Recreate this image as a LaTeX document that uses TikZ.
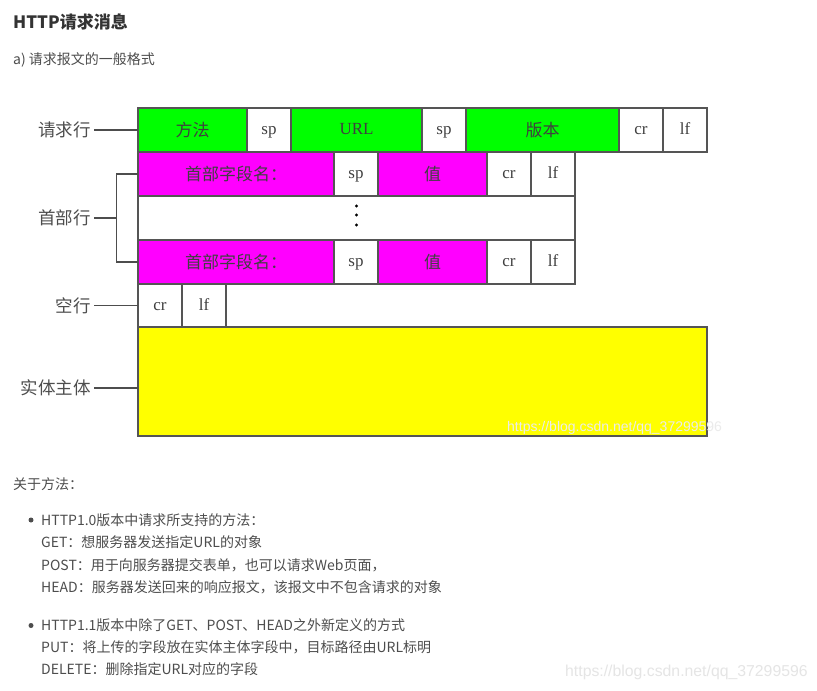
\documentclass[tikz,border=0pt]{standalone}
\usepackage{fontspec}
\setmainfont{Liberation Serif}
\newfontfamily\cjk{Noto Sans CJK SC}
\newfontfamily\websans{Liberation Sans}
\usepackage{tikz}
\usetikzlibrary{positioning}
\definecolor{reqgreen}{HTML}{00FF00}
\definecolor{hdrpink}{HTML}{FF00FF}
\definecolor{bodyyellow}{HTML}{FFFF00}
\definecolor{inkgray}{HTML}{4D4D4D}
\definecolor{titlegray}{HTML}{333333}
\definecolor{framegray}{HTML}{555555}
\tikzset{
    cell/.style={rectangle, draw=framegray, line width=1.2pt, minimum height=44pt, inner sep=0pt, outer sep=0pt, text height=12pt, text depth=3pt, font=\fontsize{17}{20}\selectfont, text=black!75},
    small/.style={cell, minimum width=44pt},
    zh/.style={font=\cjk\fontsize{17}{20}\selectfont, text height=13pt, text depth=0pt},
    reqcell/.style={cell, zh, fill=reqgreen},
    hdrcell/.style={cell, zh, fill=hdrpink},
    rowlabel/.style={anchor=east, inner sep=3pt, font=\cjk\fontsize{17.5}{20}\selectfont, text=inkgray},
    pointer/.style={draw=inkgray, line width=1.3pt},
    txt/.style={anchor=west, inner sep=0pt, font=\cjk\fontsize{14}{17}\selectfont, text=inkgray},
    stamp/.style={anchor=west, inner sep=0pt, font=\websans\fontsize{14}{16}\selectfont}
}

\begin{document}
\begin{tikzpicture}[x=1pt, y=-1pt]
\useasboundingbox[fill=white] (0,0) rectangle (817,691);

% Heading
\node[txt, font=\cjk\bfseries\fontsize{17}{20}\selectfont, text=titlegray] (title) at (13,22) {HTTP请求消息};
\node[txt, font=\cjk\fontsize{14}{17}\selectfont] (subtitle) at (13,60) {a) 请求报文的一般格式};

% Request line
\node[reqcell, minimum width=109pt, anchor=north west] (method) at (138,108) {方法};
\node[small, right=0pt of method] (sp1) {sp};
\node[cell, fill=reqgreen, minimum width=131pt, right=0pt of sp1] (url) {URL};
\node[small, right=0pt of url] (sp2) {sp};
\node[reqcell, minimum width=153pt, right=0pt of sp2] (version) {版本};
\node[small, right=0pt of version] (cr1) {cr};
\node[small, right=0pt of cr1] (lf1) {lf};

% Header lines
\node[hdrcell, minimum width=196pt, below=0pt of method.south west, anchor=north west] (hname1) {首部字段名：};
\node[small, right=0pt of hname1] (sp3) {sp};
\node[hdrcell, minimum width=109pt, right=0pt of sp3] (hval1) {值};
\node[small, right=0pt of hval1] (cr2) {cr};
\node[small, right=0pt of cr2] (lf2) {lf};

\node[cell, minimum width=437pt, below=0pt of hname1.south west, anchor=north west] (gap) {};
\fill[black] (gap.center) ++(0,-12) circle (1.7pt);
\fill[black] (gap.center) ++(0,-3) circle (1.7pt);
\fill[black] (gap.center) ++(0,7) circle (1.7pt);

\node[hdrcell, minimum width=196pt, below=0pt of gap.south west, anchor=north west] (hname2) {首部字段名：};
\node[small, right=0pt of hname2] (sp4) {sp};
\node[hdrcell, minimum width=109pt, right=0pt of sp4] (hval2) {值};
\node[small, right=0pt of hval2] (cr3) {cr};
\node[small, right=0pt of cr3] (lf3) {lf};

% Blank line and body
\node[small, minimum height=43pt, below=0pt of hname2.south west, anchor=north west] (cr4) {cr};
\node[small, minimum height=43pt, right=0pt of cr4] (lf4) {lf};
\node[cell, fill=bodyyellow, minimum width=569pt, minimum height=109pt, below=0pt of cr4.south west, anchor=north west] (body) {};
\node[stamp, text=white!92!black] (stamp1) at (507,428) {https://blog.csdn.net/qq\_37299596};

% Row labels
\node[rowlabel] (lreq) at (94,130) {请求行};
\node[rowlabel] (lhdr) at (94,218) {首部行};
\node[rowlabel] (lempty) at (94,305.5) {空行};
\node[rowlabel] (lbody) at (94,388) {实体主体};
\coordinate (brk) at (116.5,218);

\draw[pointer] (lreq) -- (method);
\draw[pointer] (lhdr) -- (brk);
\draw[pointer] (hname1.west) -- (hname1.west -| brk) -- (hname2.west -| brk) -- (hname2.west);
\draw[pointer] (lempty) -- (cr4);
\draw[pointer] (lbody.east) -- (lbody.east -| body.west);

% Notes on methods
\node[txt] (about) at (13,484) {关于方法：};
\node[txt] (l1) at (41,520) {HTTP1.0版本中请求所支持的方法：};
\node[txt] (l2) at ([yshift=-22.5pt]l1.west) {GET：想服务器发送指定URL的对象};
\node[txt] (l3) at ([yshift=-22.5pt]l2.west) {POST：用于向服务器提交表单，也可以请求Web页面，};
\node[txt] (l4) at ([yshift=-22.5pt]l3.west) {HEAD：服务器发送回来的响应报文，该报文中不包含请求的对象};
\node[txt] (l5) at ([yshift=-38pt]l4.west) {HTTP1.1版本中除了GET、POST、HEAD之外新定义的方式};
\node[txt] (l6) at ([yshift=-22pt]l5.west) {PUT：将上传的字段放在实体主体字段中，目标路径由URL标明};
\node[txt] (l7) at ([yshift=-22pt]l6.west) {DELETE：删除指定URL对应的字段};
\fill[inkgray] (l1.west) ++(-10,0) circle (2.5pt);
\fill[inkgray] (l5.west) ++(-10,0) circle (2.5pt);

\node[stamp, font=\websans\fontsize{15.8}{18}\selectfont, text=black!10] (stamp2) at (565,672) {https://blog.csdn.net/qq\_37299596};

\end{tikzpicture}
\end{document}
